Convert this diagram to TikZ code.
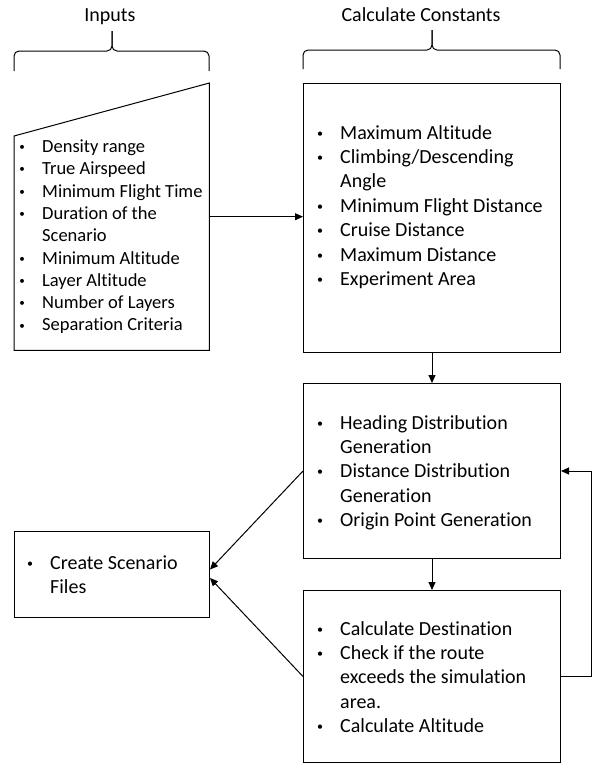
\documentclass[tikz,border=0pt]{standalone}
\usepackage{graphicx}
\usepackage{fontspec}
\setmainfont{Carlito}[Ligatures=NoCommon]
\usetikzlibrary{arrows.meta}
\newcommand{\bul}{\makebox[20pt][l]{\makebox[0pt]{\raisebox{0.1em}{\scalebox{0.6}{\textbullet}}}}}
\newcommand{\cnt}{\hspace*{20pt}}
\begin{document}
\begin{tikzpicture}[x=1pt,y=-1pt,
  box/.style={draw, line width=1pt, inner sep=0pt, rectangle, anchor=north west},
  txt/.style={inner sep=0pt, anchor=base west, font=\fontsize{20}{24.4}\selectfont},
  intxt/.style={inner sep=0pt, anchor=base west, font=\fontsize{18.5}{22.3}\selectfont},
  head/.style={inner sep=0pt, anchor=base, font=\fontsize{20}{24}\selectfont},
  arr/.style={line width=1pt, -{Triangle[length=8pt,width=7pt]}},
  lin/.style={line width=1pt}]
\useasboundingbox (0,0) rectangle (595,764);

% headings
\node[head] (hin) at (110,21.5) {Inputs};
\node[head] (hcc) at (421,21.5) {Calculate Constants};

% braces
\draw[lin, rounded corners=5pt] (14,71) |- (112,51) -- (112,31);
\draw[lin, rounded corners=5pt] (209,71) |- (112,51) -- (112,31);
\draw[lin, rounded corners=5pt] (303,69) |- (432,50) -- (432,30);
\draw[lin, rounded corners=5pt] (560,69) |- (432,50) -- (432,30);

% input (manual input shape)
\node[inner sep=0pt, anchor=north west, minimum width=195pt, minimum height=267pt] (inp) at (14,83) {};
\coordinate (inptl) at (14,136);
\draw[lin] (inp.north east) -- (inp.south east) -- (inp.south west) -- (inptl) -- cycle;

% boxes
\node[box, minimum width=257pt, minimum height=269pt] (b1) at (303,83) {};
\node[box, minimum width=257pt, minimum height=175pt] (b2) at (303,383) {};
\node[box, minimum width=257pt, minimum height=172pt] (b3) at (303,590) {};
\node[box, minimum width=195pt, minimum height=86pt] (b4) at (14,531) {};

% texts
\node[intxt] (tin) at (22,152.5) {\begin{tabular}[t]{@{}l@{}}
\bul Density range\\
\bul True Airspeed\\
\bul Minimum Flight Time\\
\bul Duration of the\\
\cnt Scenario\\
\bul Minimum Altitude\\
\bul Layer Altitude\\
\bul Number of Layers\\
\bul Separation Criteria
\end{tabular}};

\node[txt] (t1) at (320,139) {\begin{tabular}[t]{@{}l@{}}
\bul Maximum Altitude\\
\bul Climbing/Descending\\
\cnt Angle\\
\bul Minimum Flight Distance\\
\bul Cruise Distance\\
\bul Maximum Distance\\
\bul Experiment Area
\end{tabular}};

\node[txt] (t2) at (320,429) {\begin{tabular}[t]{@{}l@{}}
\bul Heading Distribution\\
\cnt Generation\\
\bul Distance Distribution\\
\cnt Generation\\
\bul Origin Point Generation
\end{tabular}};

\node[txt] (t3) at (320,635) {\begin{tabular}[t]{@{}l@{}}
\bul Calculate Destination\\
\bul Check if the route\\
\cnt exceeds the simulation\\
\cnt area.\\
\bul Calculate Altitude
\end{tabular}};

\node[txt] (t4) at (30,569) {\begin{tabular}[t]{@{}l@{}}
\bul Create Scenario\\
\cnt Files
\end{tabular}};

% connectors
\draw[arr] (inp.east) -- (inp.east -| b1.west);
\draw[arr] (b1.south) -- (b2.north);
\draw[arr] (b2.south) -- (b3.north);
\draw[arr] (b2.west) -- ([yshift=5pt]b4.east);
\draw[arr] (b3.west) -- ([yshift=-3.5pt]b4.east);
\draw[arr] (b3.east) -- ++(30,0) |- (b2.east);
\end{tikzpicture}
\end{document}
